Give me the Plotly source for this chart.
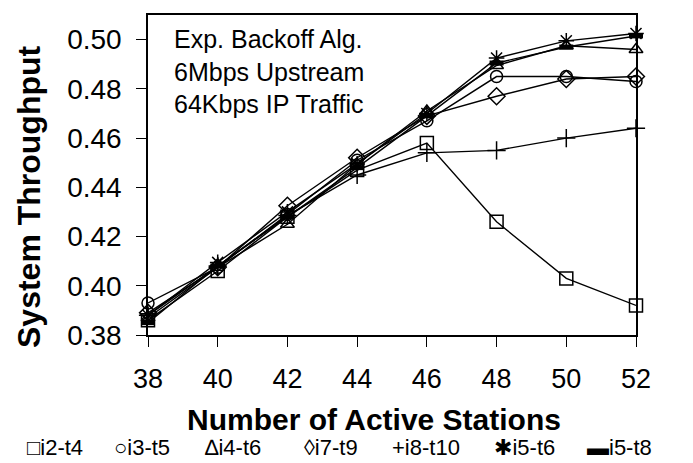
import plotly.graph_objects as go

# Number of active stations
stations = [38, 40, 42, 44, 46, 48, 50, 52]

# System throughput per configuration
i2_t4 = [0.386, 0.406, 0.428, 0.447, 0.458, 0.426, 0.403, 0.392]
i3_t5 = [0.393, 0.4075, 0.429, 0.451, 0.467, 0.485, 0.485, 0.483]
i4_t6 = [0.387, 0.4075, 0.425, 0.4495, 0.471, 0.4895, 0.4975, 0.496]
i7_t9 = [0.389, 0.4075, 0.4325, 0.452, 0.469, 0.477, 0.484, 0.485]
i8_t10 = [0.388, 0.408, 0.4285, 0.445, 0.454, 0.455, 0.460, 0.464]
i5_t6 = [0.388, 0.4095, 0.430, 0.4495, 0.470, 0.4925, 0.4995, 0.5025]
i5_t8 = [0.385, 0.408, 0.428, 0.448, 0.469, 0.4905, 0.497, 0.5015]

series_names = ["i2-t4", "i3-t5", "i4-t6", "i7-t9", "i8-t10", "i5-t6", "i5-t8"]
legend_glyphs = ["\u25a1", "\u25cb", "\u2206", "\u25ca", "+", "\u2731", "\u25ac"]

y_ticks = [0.38, 0.40, 0.42, 0.44, 0.46, 0.48, 0.50]

x_title = "Number of Active Stations"
y_title = "System Throughput"

series = [
    (i2_t4, dict(symbol="square-open", size=13, line=dict(width=1.5))),
    (i3_t5, dict(symbol="circle-open", size=12, line=dict(width=1.5))),
    (i4_t6, dict(symbol="triangle-up-open", size=12, line=dict(width=1.5))),
    (i7_t9, dict(symbol="diamond-open", size=13, line=dict(width=1.5))),
    (i8_t10, dict(symbol="cross-thin-open", size=13, line=dict(width=1.5))),
    (i5_t6, dict(symbol="asterisk-open", size=13, line=dict(width=1.5))),
    (i5_t8, dict(symbol="line-ew-open", size=10, line=dict(width=5))),
]

fig = go.Figure()
for (vals, mk), name in zip(series, series_names):
    marker = dict(color="black", **mk)
    marker["line"] = dict(color="black", **mk["line"])
    fig.add_trace(go.Scatter(
        x=stations, y=vals, name=name, mode="lines+markers",
        line=dict(color="black", width=1.4),
        marker=marker, showlegend=False, cliponaxis=False,
    ))

font_family = "Liberation Sans, Arial, sans-serif"

# plot area in pixels: x 148..636, y 15..335
PL, PR, PT, PB = 148, 636, 15, 335
W, H = 693, 463


def px_x(px):
    return (px - PL) / (PR - PL)


def px_y(py):
    return (PB - py) / (PB - PT)


fig.update_layout(
    width=W, height=H,
    margin=dict(l=PL, r=W - PR, t=PT, b=H - PB),
    paper_bgcolor="white", plot_bgcolor="white",
    font=dict(family=font_family, color="black"),
    xaxis=dict(
        range=[38, 52], tickvals=stations, showgrid=False, zeroline=False,
        showline=True, mirror=True, linecolor="black", linewidth=1.5,
        ticks="outside", ticklen=10, tickwidth=1.2, tickcolor="black",
        tickfont=dict(size=27), ticklabelstandoff=9,
    ),
    yaxis=dict(
        range=[0.38, 0.51], tickvals=y_ticks, tickformat=".2f",
        showgrid=False, zeroline=False,
        showline=True, mirror=True, linecolor="black", linewidth=1.5,
        ticks="outside", ticklen=10, tickwidth=1.2, tickcolor="black",
        tickfont=dict(size=28), ticklabelstandoff=9,
    ),
)

# axis titles
fig.add_annotation(
    xref="paper", yref="paper", x=px_x(374), y=px_y(419),
    xanchor="center", yanchor="middle", showarrow=False,
    text="<b>" + x_title + "</b>", font=dict(size=30, family=font_family),
)
fig.add_annotation(
    xref="paper", yref="paper", x=px_x(29), y=px_y(197),
    xanchor="center", yanchor="middle", showarrow=False, textangle=-90,
    text="<b>" + y_title + "</b>", font=dict(size=32, family=font_family),
)

fig.add_annotation(
    xref="paper", yref="paper", x=0.05, y=0.975, xanchor="left", yanchor="top",
    text="Exp. Backoff Alg.<br>6Mbps Upstream<br>64Kbps IP Traffic",
    showarrow=False, align="left", font=dict(size=25, family=font_family),
)

# legend row below the x-axis title: glyph + series name
legend_x = [25, 112, 203, 302, 390, 492, 585]
for px, g, n in zip(legend_x, legend_glyphs, series_names):
    fig.add_annotation(
        xref="paper", yref="paper",
        x=px_x(px), y=px_y(H - 1),
        xanchor="left", yanchor="bottom",
        text=g + n, showarrow=False,
        font=dict(size=22, family="Liberation Sans, DejaVu Sans, sans-serif"),
    )

fig.write_html("out.html")
